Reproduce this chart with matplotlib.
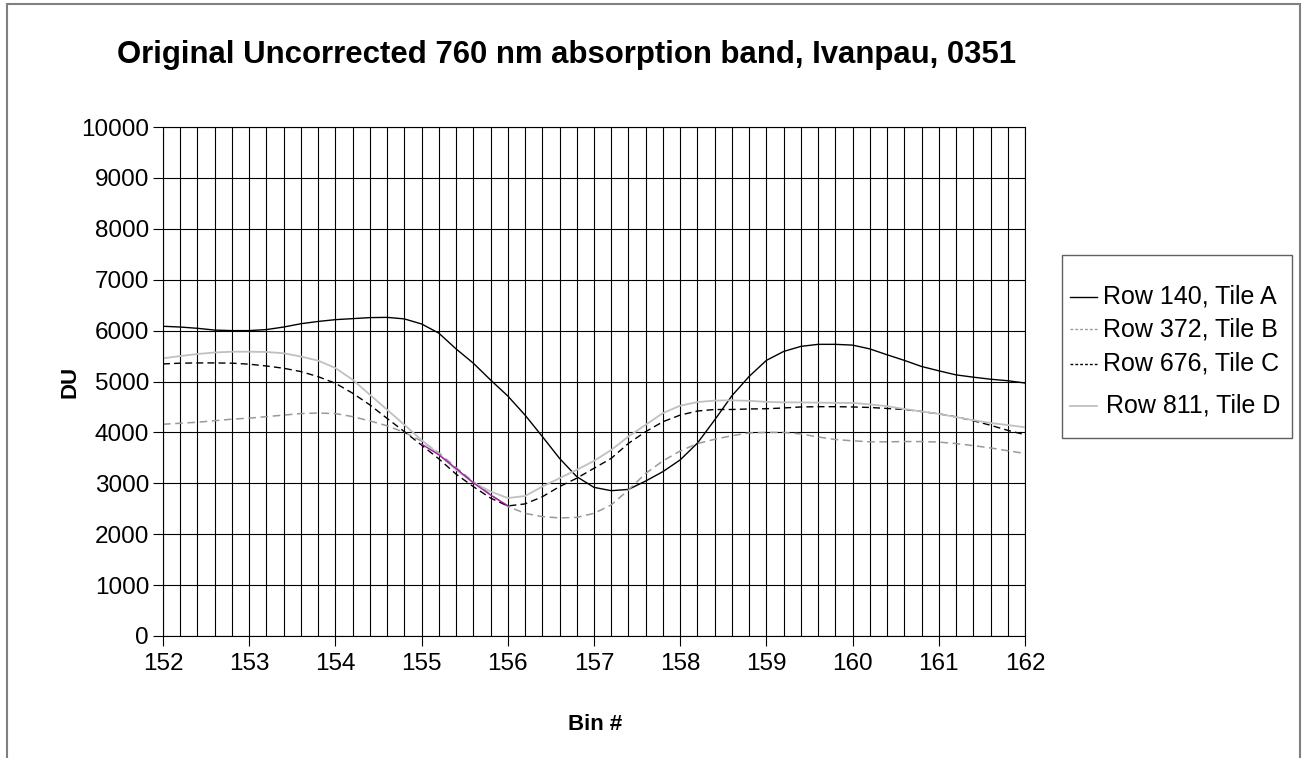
import numpy as np
import matplotlib.pyplot as plt
from matplotlib.patches import Rectangle
from matplotlib.lines import Line2D

plt.rcParams['font.family'] = ['Liberation Sans', 'DejaVu Sans']

# bin positions, read every 0.2 bin
bins = [152.0, 152.2, 152.4, 152.6, 152.8, 153.0, 153.2, 153.4, 153.6, 153.8,
        154.0, 154.2, 154.4, 154.6, 154.8, 155.0, 155.2, 155.4, 155.6, 155.8,
        156.0, 156.2, 156.4, 156.6, 156.8, 157.0, 157.2, 157.4, 157.6, 157.8,
        158.0, 158.2, 158.4, 158.6, 158.8, 159.0, 159.2, 159.4, 159.6, 159.8,
        160.0, 160.2, 160.4, 160.6, 160.8, 161.0, 161.2, 161.4, 161.6, 161.8,
        162.0]

row140 = [6085, 6070, 6045, 6010, 6000, 6000, 6020, 6070, 6135, 6180,
          6215, 6235, 6255, 6260, 6230, 6130, 5950, 5640, 5360, 5030,
          4715, 4340, 3920, 3490, 3130, 2920, 2855, 2880, 3045, 3230,
          3460, 3790, 4245, 4720, 5100, 5415, 5590, 5690, 5730, 5730,
          5715, 5640, 5525, 5415, 5295, 5210, 5130, 5085, 5045, 5015,
          4970]

row372 = [4160, 4180, 4200, 4230, 4260, 4280, 4310, 4340, 4370, 4380,
          4370, 4310, 4225, 4130, 4000, 3830, 3600, 3310, 3030, 2780,
          2545, 2410, 2345, 2320, 2330, 2410, 2575, 2870, 3195, 3440,
          3635, 3780, 3865, 3935, 3990, 4000, 4000, 3970, 3910, 3860,
          3835, 3815, 3815, 3820, 3820, 3810, 3780, 3740, 3695, 3640,
          3585]

row676 = [5345, 5360, 5365, 5365, 5360, 5340, 5305, 5260, 5195, 5095,
          4965, 4770, 4540, 4275, 4015, 3750, 3480, 3180, 2935, 2710,
          2555, 2595, 2735, 2935, 3100, 3295, 3490, 3785, 4015, 4210,
          4340, 4420, 4450, 4450, 4460, 4465, 4480, 4500, 4505, 4505,
          4500, 4490, 4470, 4450, 4410, 4365, 4305, 4230, 4140, 4040,
          3955]

row811 = [5455, 5500, 5540, 5570, 5585, 5585, 5580, 5555, 5490, 5410,
          5265, 5035, 4740, 4445, 4150, 3850, 3570, 3265, 3015, 2840,
          2710, 2750, 2935, 3100, 3265, 3440, 3655, 3920, 4150, 4380,
          4525, 4595, 4625, 4630, 4620, 4600, 4590, 4590, 4585, 4580,
          4580, 4550, 4515, 4460, 4410, 4365, 4300, 4240, 4185, 4145,
          4100]

# short stray segment drawn in purple
extra_bins = [155.0, 155.2, 155.4, 155.6, 155.8, 156.0]
extra_vals = [3770, 3560, 3290, 3010, 2770, 2560]

labels = ['Row 140, Tile A', 'Row 372, Tile B', 'Row 676, Tile C', 'Row 811, Tile D']

W, H = 1303, 758
fig = plt.figure(figsize=(W / 100, H / 100), dpi=100)
ax = fig.add_axes([163/W, 122/H, 862/W, 509/H])

dash = (0, (5, 3))
ax.plot(bins, row140, color='black', lw=1.0)
ax.plot(bins, row372, color='#999999', lw=1.1, ls=dash)
ax.plot(bins, row676, color='black', lw=1.0, ls=dash)
ax.plot(bins, row811, color='#c0c0c0', lw=1.3)
ax.plot(extra_bins, extra_vals, color='#a020a0', lw=1.0)

ax.set_xlim(152, 162)
ax.set_ylim(0, 10000)
ax.set_xticks(np.arange(152, 163, 1))
ax.set_xticks(np.arange(152, 162.01, 0.2), minor=True)
ax.set_yticks(np.arange(0, 10001, 1000))
ax.grid(True, which='both', axis='x', color='black', lw=0.8)
ax.grid(True, which='major', axis='y', color='black', lw=0.8)
ax.set_axisbelow(True)
ax.tick_params(axis='x', which='minor', length=0)
ax.tick_params(axis='both', which='major', labelsize=17.5, direction='out',
               length=7, width=0.8, color='black', pad=3)
ax.tick_params(axis='x', which='major', pad=5)
for s in ax.spines.values():
    s.set_color('black')
    s.set_linewidth(0.8)

ax.set_xlabel('Bin #', fontsize=16, fontweight='bold', va='center')
ax.xaxis.set_label_coords((595 - 163) / 862, (636 - 725) / 509)
ax.set_ylabel('DU', fontsize=16, fontweight='bold', va='center')
ax.yaxis.set_label_coords((70 - 163) / 862, (636 - 382) / 509)

fig.text(567/W, 1 - 55/H, 'Original Uncorrected 760 nm absorption band, Ivanpau, 0351',
         ha='center', va='center', fontsize=22.4, fontweight='bold')

# legend drawn by hand, Excel style
fig.patches.append(Rectangle((1062/W, 1 - 438/H), 230/W, 183/H,
                             transform=fig.transFigure, fill=False,
                             edgecolor='#606060', lw=1.0))
leg_styles = [dict(color='black', lw=1.0),
              dict(color='#999999', lw=1.0, ls=(0, (2, 1.5))),
              dict(color='black', lw=1.0, ls=(0, (2, 1.5))),
              dict(color='#c0c0c0', lw=1.3)]
leg_y = [297, 329, 364, 406]
leg_x = [1103, 1103, 1103, 1106]
for lab, st, yy, xx in zip(labels, leg_styles, leg_y, leg_x):
    fig.lines.append(Line2D([1070/W, 1097/W], [1 - yy/H, 1 - yy/H],
                            transform=fig.transFigure, **st))
    fig.text(xx/W, 1 - yy/H, lab, ha='left', va='center', fontsize=18)

fig.patches.append(Rectangle((7/W, -0.05), 1293/W, 1.05 - 4/H,
                             transform=fig.transFigure, fill=False,
                             edgecolor='#808080', lw=1.5))

fig.savefig('out.png', dpi=100)
